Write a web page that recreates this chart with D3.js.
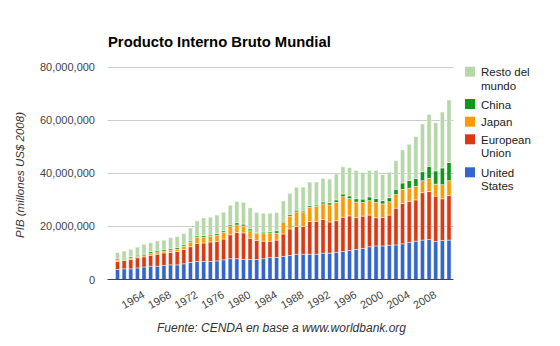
<!DOCTYPE html>
<html><head><meta charset="utf-8">
<script src="https://cdn.jsdelivr.net/npm/d3@7/dist/d3.min.js"></script>
<style>body{margin:0;background:#fff;} svg{display:block;font-family:Arial,"Liberation Sans",sans-serif;}</style>
</head><body>
<svg id="c" width="560" height="346"></svg>
<script>
const years = d3.range(1960, 2011);
// values in millions of "millones US$ 2008" (multiply by 1e6)
const unitedStates = [3.8,4.0,4.0,4.35,4.7,5.0,5.0,5.3,5.5,5.5,5.9,6.4,6.8,6.8,6.8,7.0,7.4,7.8,7.8,7.6,7.5,7.5,7.8,8.2,8.3,8.7,9.0,9.5,9.5,9.5,9.5,9.9,9.9,10.2,10.5,10.9,11.3,11.7,12.3,12.6,12.6,12.9,13.0,13.4,13.9,14.4,14.8,15.0,14.3,14.7,14.8];
const europeanUnion = [2.9,3.1,3.5,3.8,3.8,4.1,4.5,4.7,4.6,5.0,5.4,5.9,6.8,6.9,7.3,7.2,7.8,9.0,9.8,9.9,8.0,7.2,6.6,6.2,6.5,8.4,10.0,10.4,10.4,12.3,12.4,12.6,11.7,11.9,12.9,13.0,11.9,12.1,11.9,10.6,10.7,11.3,13.8,15.2,15.5,15.5,17.8,18.0,17.0,15.6,16.7];
const japan = [0.6,0.5,0.5,0.5,0.85,0.6,0.85,0.65,1.0,0.9,1.1,1.7,2.3,2.2,2.1,2.5,2.5,3.1,2.9,2.6,2.8,2.6,2.8,3.1,2.6,4.3,4.75,5.5,5.2,5.3,5.6,5.9,6.4,6.9,7.7,6.5,5.9,5.1,5.4,5.75,5.1,5.0,5.1,5.25,4.9,5.1,4.5,5.0,4.5,5.3,5.6];
const china = [0.4,0.4,0.5,0.5,0.5,0.7,0.6,0.6,0.6,0.6,0.6,0.5,0.5,0.6,0.5,0.6,0.6,0.6,0.8,0.7,0.7,0.4,0.6,0.5,0.9,0.5,0.6,0.65,0.6,0.6,0.5,0.7,0.8,0.9,1.0,1.0,1.25,1.3,1.4,1.5,1.2,1.5,2.0,2.4,2.9,2.9,3.4,4.5,5.0,6.3,6.8];
const restOfWorld = [2.4,2.7,2.8,3.0,3.4,3.4,3.5,3.5,4.0,4.1,4.2,4.8,5.6,6.6,6.7,6.9,7.0,7.4,8.0,8.2,7.9,7.5,7.1,6.9,6.9,7.6,8.0,8.6,9.0,8.9,8.6,8.9,8.9,9.7,10.2,10.6,10.6,10.0,9.9,10.5,9.8,9.6,10.7,12.4,13.6,15.8,17.9,19.5,18.1,21.0,23.5];
const UNIT = 1e6;
const seriesKeys = ["United States","European Union","Japan","China","Resto del mundo"];
const seriesColors = ["#3366cc","#dc3912","#ff9900","#109618","#b6d7a8"];
const legendLabels = [["Resto del","mundo"],["China"],["Japan"],["European","Union"],["United","States"]];
const legendOrder = [4,3,2,1,0];
const yTicks = [0,20000000,40000000,60000000,80000000];
const xLabelYears = [1964,1968,1972,1976,1980,1984,1988,1992,1996,2000,2004,2008];

const seriesValues = [unitedStates, europeanUnion, japan, china, restOfWorld];
const table = years.map((y,i)=>{const o={year:y}; seriesKeys.forEach((k,j)=>o[k]=seriesValues[j][i]*UNIT); return o;});
const stack = d3.stack().keys(seriesKeys)(table);

const svg = d3.select("#c");
const plotL = 107.5, plotR = 453.5;
const x = d3.scaleBand().domain(years).range([114.2, 452.3]).paddingInner(0.38).paddingOuter(0.19);
const y = d3.scaleLinear().domain([0, 80000000]).range([279.5, 66.5]);

// gridlines
svg.append("g").selectAll("line").data(yTicks.filter(d=>d>0)).join("line")
  .attr("x1", plotL).attr("x2", plotR)
  .attr("y1", d=>Math.round(y(d))+0.5).attr("y2", d=>Math.round(y(d))+0.5)
  .attr("stroke", "#cccccc").attr("stroke-width", 1);

// y tick labels
svg.append("g").selectAll("text").data(yTicks).join("text")
  .attr("x", 95).attr("y", d=>y(d)+4)
  .attr("text-anchor","end").attr("font-size",11).attr("fill","#444")
  .text(d=>d3.format(",")(d));

// bars
svg.append("g").selectAll("g").data(stack).join("g")
  .attr("fill",(d,i)=>seriesColors[i])
  .selectAll("rect").data(d=>d).join("rect")
  .attr("x", d=>x(d.data.year)).attr("width", x.bandwidth())
  .attr("y", d=>y(d[1])).attr("height", d=>Math.max(0, y(d[0])-y(d[1])))
  .attr("stroke","#ffffff").attr("stroke-opacity",0.55).attr("stroke-width",0.8);

// baseline
svg.append("line").attr("x1",plotL).attr("x2",plotR).attr("y1",279.5).attr("y2",279.5)
  .attr("stroke","#444").attr("stroke-width",1);

// x labels
svg.append("g").selectAll("text").data(xLabelYears).join("text")
  .attr("transform", d=>`translate(${x(d)+x.bandwidth()/2+1.5},297) rotate(-30)`)
  .attr("text-anchor","end").attr("font-size",11).attr("fill","#444")
  .text(d=>d);

// title
svg.append("text").attr("x",108).attr("y",47).attr("font-size",14.8).attr("font-weight","bold")
  .attr("fill","#000").text("Producto Interno Bruto Mundial");

// y axis title
svg.append("text").attr("transform","translate(24,175) rotate(-90)").attr("text-anchor","middle")
  .attr("font-size",11.5).attr("font-style","italic").attr("fill","#333")
  .text("PIB (millones US$ 2008)");

// legend
const legendY = [66.7, 99, 116.7, 134.3, 167.3];
const lg = svg.append("g").selectAll("g").data(legendOrder).join("g")
  .attr("transform",(d,i)=>`translate(465,${legendY[i]})`);
lg.append("rect").attr("width",10).attr("height",10).attr("fill",d=>seriesColors[d]);
lg.each(function(d,i){
  const g = d3.select(this);
  legendLabels[i].forEach((t,k)=>{
    g.append("text").attr("x",16).attr("y",9.5+k*13.5).attr("font-size",11.5).attr("fill","#222").text(t);
  });
});

// footer
svg.append("text").attr("x",281.5).attr("y",332).attr("text-anchor","middle")
  .attr("font-size",12).attr("font-style","italic").attr("fill","#333")
  .text("Fuente: CENDA en base a www.worldbank.org");
</script>
</body></html>
